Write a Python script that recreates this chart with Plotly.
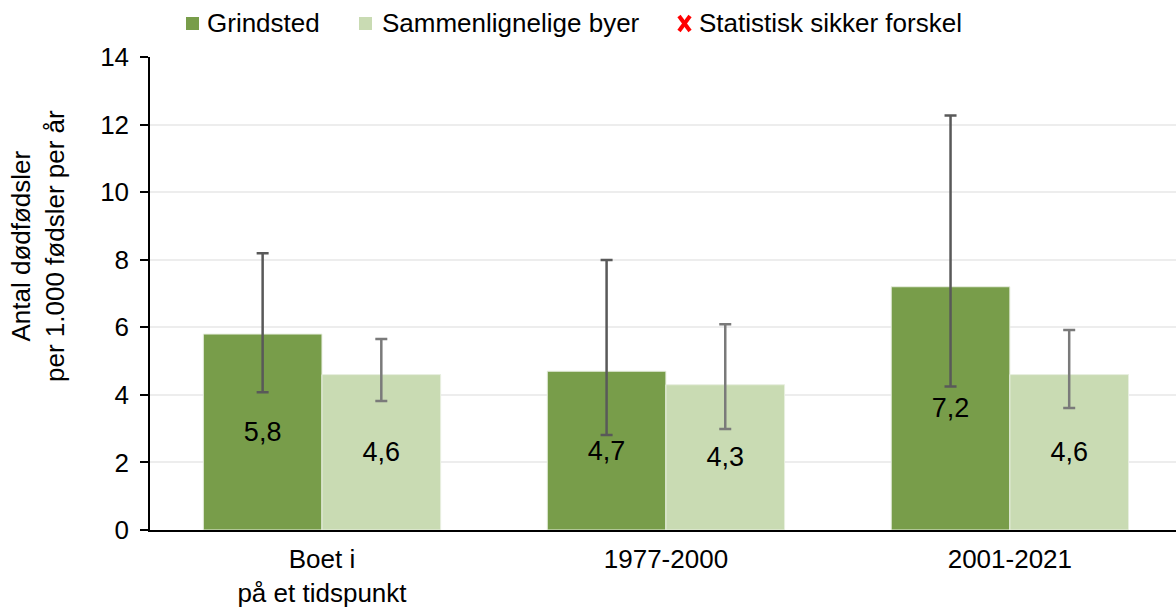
import plotly.graph_objects as go

categories = ["Boet i<br>på et tidspunkt", "1977-2000", "2001-2021"]
grindsted = [5.8, 4.7, 7.2]
grindsted_low = [4.08, 2.81, 4.25]
grindsted_high = [8.19, 7.99, 12.27]
sammenlign = [4.6, 4.3, 4.6]
sammenlign_low = [3.82, 2.99, 3.61]
sammenlign_high = [5.65, 6.09, 5.92]
legend_names = ["Grindsted", "Sammenlignelige byer", "Statistisk sikker forskel"]
y_title = "Antal dødfødsler<br>per 1.000 fødsler per år"

GREEN = "#789D4A"
LIGHT = "#C9DBB3"
RED = "#FF0000"
FONT = "Liberation Sans, Arial, sans-serif"
FS = 27

W, H = 1176, 608
ML, MR, MT, MB = 150, 0, 57, 78
PW, PH = W - ML - MR, H - MT - MB


def px_x(px):
    return (px - ML) / PW


def px_y(py):
    return (H - MB - py) / PH


def err(vals, low, high):
    return dict(
        type="data",
        symmetric=False,
        array=[h - v for v, h in zip(vals, high)],
        arrayminus=[v - l for v, l in zip(vals, low)],
        width=6,
        thickness=2.5,
    )


fig = go.Figure()
fig.add_trace(go.Bar(
    name=legend_names[0], x=categories, y=grindsted,
    marker=dict(color=GREEN, line=dict(color="#e8efe0", width=1)),
    error_y={**err(grindsted, grindsted_low, grindsted_high), "color": "#595959"},
    texttemplate="%{y:.1f}", textposition="inside", insidetextanchor="middle",
    textfont=dict(size=FS, color="black", family=FONT),
))
fig.add_trace(go.Bar(
    name=legend_names[1], x=categories, y=sammenlign,
    marker=dict(color=LIGHT, line=dict(color="#e8efe0", width=1)),
    error_y={**err(sammenlign, sammenlign_low, sammenlign_high), "color": "#7a7a7a"},
    texttemplate="%{y:.1f}", textposition="inside", insidetextanchor="middle",
    textfont=dict(size=FS, color="black", family=FONT),
))

# Legend row drawn in paper coordinates: two swatches, a red cross, three labels
shapes = []
for left, col in [(186, GREEN), (359, LIGHT)]:
    shapes.append(dict(type="rect", xref="paper", yref="paper",
                       x0=px_x(left), x1=px_x(left + 13),
                       y0=px_y(30), y1=px_y(17),
                       fillcolor=col, line=dict(width=0)))
for (xa, ya, xb, yb) in [(679, 16, 690, 31), (690, 16, 679, 31)]:
    shapes.append(dict(type="line", xref="paper", yref="paper",
                       x0=px_x(xa), y0=px_y(ya), x1=px_x(xb), y1=px_y(yb),
                       line=dict(color=RED, width=4)))

annotations = [dict(
    text=y_title, textangle=-90, xref="paper", yref="paper",
    x=px_x(38), y=px_y(246), xanchor="center", yanchor="middle",
    showarrow=False, font=dict(size=26, family=FONT, color="black"),
)]
for name, left in zip(legend_names, [205, 380, 697]):
    annotations.append(dict(
        text=name, xref="paper", yref="paper", x=px_x(left), y=px_y(23),
        xanchor="left", yanchor="middle", showarrow=False,
        font=dict(size=26, family=FONT, color="black"),
    ))

fig.update_layout(
    width=W, height=H,
    margin=dict(l=ML, r=MR, t=MT, b=MB),
    paper_bgcolor="white", plot_bgcolor="white",
    separators=",.",
    barmode="group", bargap=0.31, bargroupgap=0,
    font=dict(family=FONT, size=FS, color="black"),
    showlegend=False,
    shapes=shapes,
    annotations=annotations,
)
fig.update_xaxes(
    range=[-0.5, 2.483], automargin=False,
    showline=True, linecolor="black", linewidth=2,
    ticks="", tickfont=dict(size=26, family=FONT), ticklabelstandoff=5,
    showgrid=False,
)
fig.update_yaxes(
    range=[0, 14], dtick=2, automargin=False,
    showline=True, linecolor="black", linewidth=1.5,
    ticks="outside", ticklen=8, tickcolor="black", tickwidth=1.5,
    tickfont=dict(size=26, family=FONT), ticklabelstandoff=6,
    showgrid=True, gridcolor="#EDEDED", gridwidth=1.5,
    zeroline=False,
)

fig.write_html("out.html")
